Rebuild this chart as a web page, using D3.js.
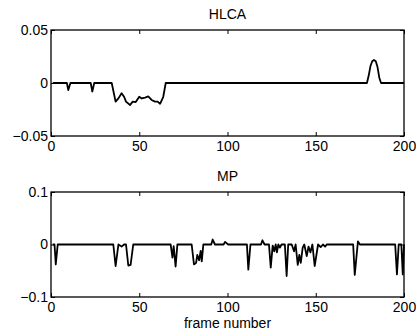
<!DOCTYPE html>
<html>
<head>
<meta charset="utf-8">
<script src="https://cdn.jsdelivr.net/npm/d3@7"></script>
<style>
	body { margin:0; background:#fff; }
	.axis text { font-family: "Liberation Sans", Arial, sans-serif; font-size:14px; fill:#000; }
	.title, .xlabel { font-family: "Liberation Sans", Arial, sans-serif; font-size:14px; fill:#000; }
</style>
</head>
<body>
<div id="viz-container"></div>
<script>
// data (frame, value) vertices
var hlcaFrames = [1, 9, 9.8, 11, 22.5, 23.4, 24.5, 34.4, 36.6, 38.2, 40, 41.4, 42.5, 44.8, 46.3, 48, 50, 51.4, 53.3, 55.1, 57, 58.9, 60.4, 61.8, 63.6, 65,
	179, 180, 181, 182, 183, 184, 185, 186, 187, 200];
var hlcaValues = [0, 0, -0.0066, 0, 0, -0.008, 0, 0, -0.0176, -0.0145, -0.0097, -0.013, -0.0176, -0.0208, -0.0176, -0.018, -0.013, -0.0146, -0.0137, -0.0127, -0.016, -0.0176, -0.0176, -0.0196, -0.013, 0,
	0, 0.007, 0.016, 0.0205, 0.0217, 0.0205, 0.015, 0.005, 0, 0];

var mpFrames = [1, 2, 2.7, 3.8,
	35.3, 36.6, 38.2, 40, 41.4, 42.5, 43.8, 45.1, 46.6,
	67.8, 68.8, 69.5, 70.6, 71.6,
	79.7, 81, 82.2, 82.9, 83.9, 84.8, 85.4, 86.3,
	90.8, 91.6, 92.9, 97.8, 98.6, 100.4,
	111, 111.8, 113,
	119, 119.8, 121,
	123.5, 124.5, 125.6, 126.5, 127.3, 128, 128.8, 129.7, 130.6, 132.5, 133.5, 134.4, 136.4, 137.7, 138.6, 139.8, 140.7, 141.5, 142.6, 143.5, 144.9, 145.9, 147, 148.1, 149.4, 151.3, 152.8, 154.1, 155.3, 156.2,
	171.2, 172.1, 173.9, 175,
	195, 196, 197, 198.5, 199.3, 200];
var mpValues = [0, 0, -0.038, 0,
	0, -0.041, 0, -0.004, 0, 0, -0.04, -0.039, 0,
	0, -0.025, -0.003, -0.042, 0,
	0, -0.038, -0.035, -0.02, -0.03, -0.012, -0.032, 0,
	0, 0.0095, 0, 0, 0.005, 0,
	0, -0.048, 0,
	0, 0.008, 0,
	0, -0.044, -0.002, -0.013, 0, -0.015, 0, -0.006, 0, 0, -0.06, 0, 0, -0.013, 0, -0.039, -0.02, -0.035, -0.006, 0, -0.022, -0.004, -0.015, 0, -0.041, 0, -0.005, 0, -0.004, 0,
	0, -0.058, 0.006, 0,
	0, -0.057, 0, 0, -0.057, 0];

var xTicks = [0, 50, 100, 150, 200];
var hlcaYTicks = [-0.05, 0, 0.05];
var hlcaYLabels = ["\u22120.05", "0", "0.05"];
var mpYTicks = [-0.1, 0, 0.1];
var mpYLabels = ["\u22120.1", "0", "0.1"];

var width = 416,
	height = 336;

var svg = d3.select('#viz-container')
	.append('svg')
		.attr('width', width)
		.attr('height', height);

svg.append('rect').attr('width', width).attr('height', height).attr('fill', '#fff');

var xScale = d3.scaleLinear()
	.domain([0, 200])
	.range([51, 404]);

function makePanel(title, frames, values, yTicks, yLabels, top, bottom){
	var yScale = d3.scaleLinear()
		.domain([yTicks[0], yTicks[yTicks.length-1]])
		.range([bottom, top]);

	var g = svg.append('g');

	// matlab style inward ticks on all four sides
	var xb = d3.axisBottom(xScale).tickValues(xTicks).tickSize(-4).tickSizeOuter(0).tickPadding(5);
	var xt = d3.axisTop(xScale).tickValues(xTicks).tickSize(-4).tickSizeOuter(0).tickFormat('');
	var yl = d3.axisLeft(yScale).tickValues(yTicks).tickSize(-4).tickSizeOuter(0).tickPadding(3)
		.tickFormat(function(d, i){ return yLabels[i]; });
	var yr = d3.axisRight(yScale).tickValues(yTicks).tickSize(-4).tickSizeOuter(0).tickFormat('');

	g.append('g').attr('class', 'axis').attr('transform', 'translate(0,' + bottom + ')').call(xb);
	g.append('g').attr('class', 'axis').attr('transform', 'translate(0,' + top + ')').call(xt);
	g.append('g').attr('class', 'axis').attr('transform', 'translate(' + xScale(0) + ',0)').call(yl);
	g.append('g').attr('class', 'axis').attr('transform', 'translate(' + xScale(200) + ',0)').call(yr);

	g.selectAll('.axis .domain').remove();
	g.selectAll('.axis line').attr('stroke', '#000').attr('stroke-width', 1);

	// box
	g.append('rect')
		.attr('x', xScale(0))
		.attr('y', top)
		.attr('width', xScale(200) - xScale(0))
		.attr('height', bottom - top)
		.attr('fill', 'none')
		.attr('stroke', '#000')
		.attr('stroke-width', 1.3);

	var line = d3.line()
		.x(function(d, i){ return xScale(frames[i]); })
		.y(function(d){ return yScale(d); });

	g.append('path')
		.datum(values)
		.attr('d', line)
		.attr('fill', 'none')
		.attr('stroke', '#000')
		.attr('stroke-width', 1.8)
		.attr('stroke-linejoin', 'round');

	g.append('text')
		.attr('class', 'title')
		.attr('x', (xScale(0) + xScale(200)) / 2)
		.attr('y', top - 11)
		.attr('text-anchor', 'middle')
		.text(title);
}

makePanel('HLCA', hlcaFrames, hlcaValues, hlcaYTicks, hlcaYLabels, 30, 136);
makePanel('MP', mpFrames, mpValues, mpYTicks, mpYLabels, 192, 297);

svg.append('text')
	.attr('class', 'xlabel')
	.attr('x', (xScale(0) + xScale(200)) / 2)
	.attr('y', 328)
	.attr('text-anchor', 'middle')
	.text('frame number');
</script>
</body>
</html>
